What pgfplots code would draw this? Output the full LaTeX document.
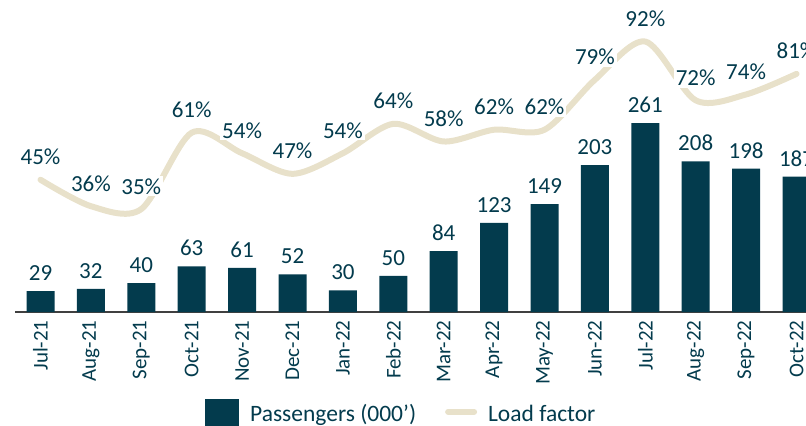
\documentclass[border=0pt]{standalone}
\usepackage{pgfplots}
\usepackage{pgfplotstable}
\pgfplotsset{compat=1.18}
\usepackage{fontspec}
\setmainfont{Carlito}
\definecolor{barteal}{HTML}{033B4D}
\definecolor{lfbeige}{HTML}{E8E1CA}
\definecolor{axisgray}{HTML}{404040}
\pgfplotstableread{
idx pax lf
0 29 45
1 32 36
2 40 35
3 63 61
4 61 54
5 52 47
6 30 54
7 50 64
8 84 58
9 123 62
10 149 62
11 203 79
12 261 92
13 208 72
14 198 74
15 187 81
}\datatable
\begin{document}
\begin{tikzpicture}
\useasboundingbox (-7.65pt,-56.5pt) rectangle (395.35pt,156pt);
\clip (-7.65pt,-56.5pt) rectangle (395.35pt,156pt);
\begin{axis}[
  at={(0,0)}, anchor=south west,
  scale only axis, width=403.2pt, height=147pt,
  xmin=-0.5, xmax=15.5, ymin=0, ymax=406,
  axis y line=none, axis x line*=bottom,
  x axis line style={-, draw=axisgray, line width=1pt},
  xtick={0,...,15},
  xticklabels={Jul-21,Aug-21,Sep-21,Oct-21,Nov-21,Dec-21,Jan-22,Feb-22,Mar-22,Apr-22,May-22,Jun-22,Jul-22,Aug-22,Sep-22,Oct-22},
  major tick length=0pt,
  xticklabel style={rotate=90, anchor=east, inner sep=0pt, font=\fontsize{10.5}{12}\selectfont, text=barteal},
  xticklabel shift=4pt,
  ybar, bar width=14pt,
  nodes near coords,
  every node near coord/.append style={font=\fontsize{11.5}{13}\selectfont, text=barteal, anchor=base, yshift=5.25pt, inner sep=0pt},
  /pgf/number format/assume math mode=true,
  clip=false,
]
\addplot[fill=barteal, draw=none] table[x=idx,y=pax] \datatable;
\end{axis}
\begin{axis}[
  at={(0,0)}, anchor=south west,
  scale only axis, width=403.2pt, height=147pt,
  xmin=-0.5, xmax=15.5, ymin=0, ymax=100,
  hide x axis, hide y axis, clip=false,
  nodes near coords={\pgfmathprintnumber[assume math mode=true]{\pgfplotspointmeta}\%},
  every node near coord/.append style={font=\fontsize{11.5}{13}\selectfont, text=barteal, anchor=base, yshift=7.5pt, fill=white, inner sep=1pt},
  legend columns=2,
  legend style={at={(axis description cs:0.48,0)}, anchor=north, yshift=-43.5pt, draw=none, fill=none, inner sep=0pt,
    font=\fontsize{11.75}{14}\selectfont, text=barteal,
    /tikz/every odd column/.append style={column sep=3.5pt},
    /tikz/every even column/.append style={column sep=12.5pt}},
]
\addlegendimage{legend image code/.code={\fill[barteal] (0pt,-9pt) rectangle (16.5pt,7.5pt);}}
\addlegendentry{Passengers (000’)}
\addplot[lfbeige, line width=3pt, smooth, line cap=round,
  legend image code/.code={\draw[lfbeige, line width=3pt, line cap=round] (1.5pt,1.5pt) -- (14.5pt,1.5pt);}]
  table[x=idx,y=lf] \datatable;
\addlegendentry{Load factor}
\end{axis}
\end{tikzpicture}
\end{document}
